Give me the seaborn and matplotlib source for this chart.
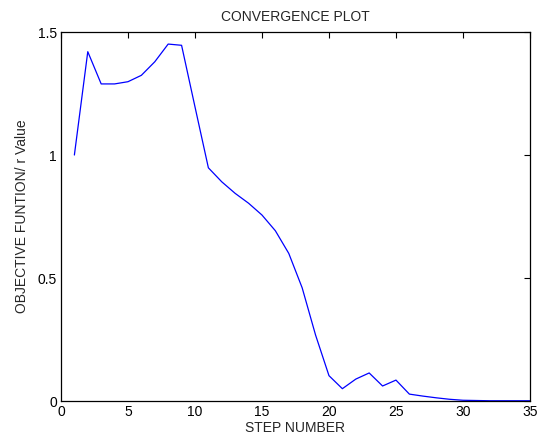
import matplotlib
matplotlib.use("Agg")
import matplotlib.pyplot as plt
import pandas as pd
import seaborn as sns

steps = list(range(1, 36))
objective = [1.0, 1.42, 1.289, 1.289, 1.298, 1.324, 1.379, 1.451, 1.446, 1.196,
             0.948, 0.891, 0.844, 0.804, 0.756, 0.692, 0.600, 0.46, 0.268, 0.103,
             0.05, 0.089, 0.114, 0.061, 0.085, 0.028, 0.02, 0.013, 0.007, 0.003,
             0.002, 0.001, 0.001, 0.001, 0.001]

x_ticks = [0, 5, 10, 15, 20, 25, 30, 35]
y_ticks = [0, 0.5, 1, 1.5]
y_tick_labels = ["0", "0.5", "1", "1.5"]

df = pd.DataFrame({"step": steps, "value": objective})

sns.set_style("white")
plt.rcParams["font.family"] = ["Liberation Sans", "DejaVu Sans"]

fig = plt.figure(figsize=(5.43, 4.41), dpi=100)
ax = fig.add_axes([0.1123, 0.0907, 0.8637, 0.8367])

sns.lineplot(data=df, x="step", y="value", color="blue", linewidth=0.9, ax=ax)

ax.set_xlim(0, 35)
ax.set_ylim(0, 1.5)
ax.set_xticks(x_ticks)
ax.set_xticklabels([str(t) for t in x_ticks])
ax.set_yticks(y_ticks)
ax.set_yticklabels(y_tick_labels)
ax.tick_params(direction="in", top=True, right=True, length=4, width=0.8,
               labelsize=10, colors="black", pad=3)
for s in ax.spines.values():
    s.set_visible(True)
    s.set_color("black")
    s.set_linewidth(0.9)

ax.set_title("CONVERGENCE PLOT", fontsize=10, pad=8)
ax.set_xlabel("STEP NUMBER", fontsize=10, labelpad=1)
ax.set_ylabel("OBJECTIVE FUNTION/ r Value", fontsize=10, labelpad=6)

fig.savefig("out.png", dpi=100)
